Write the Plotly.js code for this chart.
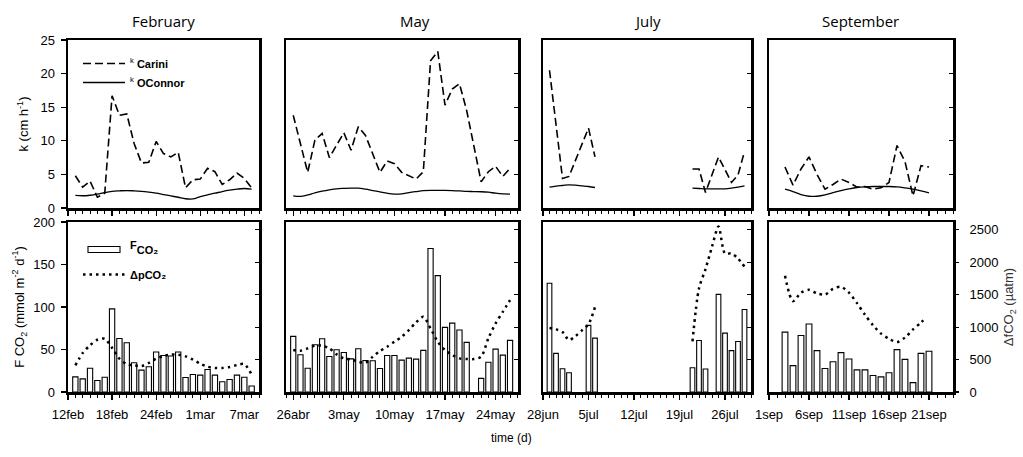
<!DOCTYPE html>
<html><head><meta charset="utf-8">
<script src="https://cdn.plot.ly/plotly-3.0.1.min.js"></script>
<style>html,body{margin:0;padding:0;background:#fff}#chart{width:1023px;height:457px}</style>
</head><body><div id="chart"></div>
<script>
// ---------------- data ----------------
const monthTitles = ["February", "May", "July", "September"];

// tick labels
const febTickVals = [0, 6, 12, 18, 24];
const febTickText = ["12feb", "18feb", "24feb", "1mar", "7mar"];
const mayTickVals = [0, 7, 14, 21, 28];
const mayTickText = ["26abr", "3may", "10may", "17may", "24may"];
const julTickVals = [0, 7, 14, 21, 28];
const julTickText = ["28jun", "5jul", "12jul", "19jul", "26jul"];
const sepTickVals = [0, 5, 10, 15, 20];
const sepTickText = ["1sep", "6sep", "11sep", "16sep", "21sep"];

// February (day 0 = 12 feb)
const febDays = [1,2,3,4,5,6,7,8,9,10,11,12,13,14,15,16,17,18,19,20,21,22,23,24,25];
const febCarini = [4.8,3.1,4.0,1.6,2.2,16.7,13.8,14.0,9.6,6.7,6.8,9.9,8.1,7.6,8.3,3.0,4.2,4.3,5.9,5.4,3.5,4.2,5.2,4.4,3.0];
const febOConnor = [1.87,1.82,1.9,2.07,2.3,2.47,2.55,2.6,2.55,2.47,2.35,2.2,2.0,1.8,1.6,1.38,1.35,1.7,1.97,2.2,2.45,2.65,2.8,2.9,2.8];
const febFlux = [17.8,15.4,28,13.5,17.4,97.8,63,58,34.5,25.7,29.7,47,43,42.4,47,17,20.6,19.8,26.5,19.8,12,14.7,19.8,17.4,7];
const febDpCO2 = [410,600,720,805,820,680,513,430,410,400,447,513,554,575,575,550,498,436,390,370,370,385,416,430,267];

// May (day 0 = 26 abr)
const mayDays = [0,1,2,3,4,5,6,7,8,9,10,11,12,13,14,15,16,17,18,19,20,21,22,23,24,25,26,27,28,29,30];
const mayCarini = [13.8,9.5,5.3,10.1,11.1,7.5,9.4,11.2,8.6,12.1,10.8,8.0,5.3,7.0,6.6,5.3,4.8,4.3,5.4,21.9,23.3,15.3,17.7,18.5,14.5,9.2,3.9,5.4,6.2,4.7,5.9];
const mayOConnor = [1.82,1.73,1.95,2.25,2.5,2.7,2.86,2.92,2.96,2.96,2.8,2.6,2.4,2.2,2.07,2.1,2.3,2.45,2.58,2.62,2.62,2.62,2.6,2.55,2.47,2.45,2.42,2.35,2.2,2.1,2.07];
const mayFlux = [65.5,43.8,28,55.6,62.7,41.8,49.7,46.5,39,50.9,37,36.7,27.6,43,43,37.5,39.8,38.7,49,168.8,136.9,76,81,73,58.4,null,16,35,50.5,43.4,60.7];
const mayDpCO2 = [646,636,672,713,713,672,580,518,503,467,451,544,631,698,775,852,954,1072,1159,980,775,646,569,518,508,508,544,826,1057,1236,1416];

// July (day 0 = 28 jun); null marks the data gap
const julKDays = [1,2,3,4,5,6,7,8,15,23,24,25,26,27,28,29,30,31];
const julCarini = [20.5,12.5,4.4,4.7,7.0,9.5,11.9,7.6,null,5.8,5.8,2.3,5.0,7.6,5.7,3.8,4.9,8.4];
const julOConnor = [3.1,3.25,3.35,3.45,3.4,3.3,3.2,3.05,null,2.95,2.9,2.85,2.85,2.85,2.85,2.95,3.1,3.3];
const julFluxDays = [1,2,3,4,7,8,23,24,25,27,28,29,30,31];
const julFlux = [128,45.5,27.3,22.6,78.4,63.4,28.5,60.6,27,114.9,69.3,48.7,59.4,97];
const julDpDays = [1,2,3,4,5,6,7,8,15,23,24,25,26,27,28,29,30,31];
const julDpCO2 = [985,965,924,800,862,950,1045,1309,null,780,1596,1894,2238,2551,2135,2135,2058,1930];

// September (day 0 = 1 sep)
const sepDays = [2,3,4,5,6,7,8,9,10,11,12,13,14,15,16,17,18,19,20];
const sepCarini = [6.1,3.4,5.8,7.6,5.0,2.8,3.5,4.3,3.8,3.1,3.2,2.8,3.0,3.8,9.3,6.9,1.8,6.3,6.1];
const sepOConnor = [2.8,2.45,2.0,1.75,1.75,1.95,2.3,2.6,2.85,3.05,3.15,3.2,3.2,3.2,3.15,3.0,2.8,2.55,2.25];
const sepFlux = [70.5,31,66.5,80,48.7,27.7,35.6,46.3,38.8,26,26,19.4,17.8,22.6,49.9,38.4,11,45.5,48];
const sepDpDays = [2,3,4,5,6,7,8,9,10,11,12,13,14,15,16,17,18,19,19.6];
const sepDpCO2 = [1790,1400,1530,1575,1520,1500,1590,1620,1530,1370,1190,1030,900,820,770,840,965,1070,1140];

// ---------------- styling / layout ----------------
const FONT = "Liberation Sans, Arial, sans-serif";
const W = 1023, H = 457;
const xPix = [[68,259],[286,518],[543,751],[769,953]];
const xRanges = [[0,26],[-1,31.1],[0,32],[0,23]];
const topPix = [40,208], botPix = [222,392];
const px = (a) => [a[0]/W, a[1]/W];
const py = (a) => [1 - a[1]/H, 1 - a[0]/H];

const tickSets = [
  [febTickVals, febTickText], [mayTickVals, mayTickText],
  [julTickVals, julTickText], [sepTickVals, sepTickText]
];
const kSets = [
  [febDays, febCarini, febDays, febOConnor],
  [mayDays, mayCarini, mayDays, mayOConnor],
  [julKDays, julCarini, julKDays, julOConnor],
  [sepDays, sepCarini, sepDays, sepOConnor]
];
const botSets = [
  [febDays, febFlux, febDays, febDpCO2],
  [mayDays, mayFlux, mayDays, mayDpCO2],
  [julFluxDays, julFlux, julDpDays, julDpCO2],
  [sepDays, sepFlux, sepDpDays, sepDpCO2]
];

const lineStyle = {showline:true, linecolor:'#000', linewidth:2.5, mirror:true, showgrid:false, zeroline:false, fixedrange:true};
const tickFont = {family: FONT, size: 13, color: '#000'};

const data = [];
const layout = {
  width: W, height: H, margin: {l:0, r:0, t:0, b:0},
  paper_bgcolor: '#fff', plot_bgcolor: 'rgba(0,0,0,0)',
  font: {family: FONT, color: '#000'},
  showlegend: true,
  annotations: [],
  legend: {x: 78/W, y: 1 - 49/H, xanchor:'left', yanchor:'top', bgcolor:'rgba(0,0,0,0)', itemwidth: 42,
           font:{family: FONT, size: 11, color:'#000'}, tracegroupgap: 0, itemclick:false, itemdoubleclick:false},
  legend2: {x: 78/W, y: 1 - 235/H, xanchor:'left', yanchor:'top', bgcolor:'rgba(0,0,0,0)', itemwidth: 42,
           font:{family: FONT, size: 11, color:'#000'}, tracegroupgap: 6, itemclick:false, itemdoubleclick:false}
};

for (let i = 0; i < 4; i++) {
  const n = i + 1;           // top panel axis index
  const m = i + 5;           // bottom panel axis index
  const r = i + 9;           // right ΔpCO2 axis index
  const [tv, tt] = tickSets[i];
  const minor = {dtick: 1, tick0: 0, ticks: 'outside', ticklen: 3, tickwidth: 1, tickcolor: '#000'};
  const xBase = Object.assign({}, lineStyle, {
    domain: px(xPix[i]), range: xRanges[i], tickmode: 'array', tickvals: tv, ticktext: tt,
    ticks: 'outside', ticklen: 5, tickwidth: 1.2, tickcolor: '#000', minor: minor, tickfont: tickFont
  });
  layout['xaxis' + n] = Object.assign({}, xBase, {anchor: 'y' + n, showticklabels: false});
  layout['xaxis' + m] = Object.assign({}, xBase, {anchor: 'y' + m, showticklabels: true, ticklabelstandoff: 4});

  // top y axes (k)
  if (i === 0) {
    layout['yaxis' + n] = Object.assign({}, lineStyle, {
      domain: py(topPix), range: [0, 25], anchor: 'x' + n, side: 'left', dtick: 5, tick0: 0,
      ticks: 'outside', ticklen: 5, tickwidth: 1.2, tickcolor: '#000', tickfont: tickFont, ticklabelstandoff: 3,
      title: {text: 'k (cm h<sup>-1</sup>)', font: {family: FONT, size: 13, color: '#000'}, standoff: 9}
    });
  } else {
    layout['yaxis' + n] = Object.assign({}, lineStyle, {
      domain: py(topPix), range: [0, 25], anchor: 'x' + n, side: 'right', dtick: 5, tick0: 0,
      ticks: 'inside', ticklen: 4, tickwidth: 1, tickcolor: '#000', showticklabels: false
    });
  }
  // bottom left y axes (flux)
  if (i === 0) {
    layout['yaxis' + m] = Object.assign({}, lineStyle, {
      domain: py(botPix), range: [0, 200], anchor: 'x' + m, side: 'left', dtick: 50, tick0: 0,
      ticks: 'outside', ticklen: 5, tickwidth: 1.2, tickcolor: '#000', tickfont: tickFont, ticklabelstandoff: 3,
      title: {text: 'F CO<sub>2</sub> (mmol m<sup>-2</sup> d<sup>-1</sup>)', font: {family: FONT, size: 13, color: '#000'}, standoff: 6}
    });
  } else {
    layout['yaxis' + m] = Object.assign({}, lineStyle, {
      domain: py(botPix), range: [0, 200], anchor: 'x' + m, side: 'left', ticks: '', showticklabels: false
    });
  }
  // right y axes (ΔpCO2)
  if (i === 3) {
    layout['yaxis' + r] = {
      overlaying: 'y' + m, anchor: 'x' + m, side: 'right', range: [0, 2620], dtick: 500, tick0: 0,
      showline: false, showgrid: false, zeroline: false, fixedrange: true,
      ticks: 'outside', ticklen: 5, tickwidth: 1.2, tickcolor: '#000', tickfont: tickFont, ticklabelstandoff: 8,
      title: {text: 'ΔfCO<sub>2</sub> (µatm)', font: {family: FONT, size: 13, color: '#333'}, standoff: 6}
    };
  } else {
    layout['yaxis' + r] = {
      overlaying: 'y' + m, anchor: 'x' + m, side: 'right', range: [0, 2620], dtick: 500, tick0: 0,
      showline: false, showgrid: false, zeroline: false, fixedrange: true,
      ticks: 'inside', ticklen: 4, tickwidth: 1, tickcolor: '#000', showticklabels: false
    };
  }

  const [kcx, kcy, kox, koy] = kSets[i];
  data.push({
    type: 'scatter', mode: 'lines', x: kcx, y: kcy, xaxis: 'x' + n, yaxis: 'y' + n,
    name: '<sup>k</sup> <b>Carini</b>', legend: 'legend', showlegend: i === 0, legendgroup: 'kc',
    line: {color: '#000', width: 1.6, dash: '8px,4px'}, hoverinfo: 'skip'
  });
  data.push({
    type: 'scatter', mode: 'lines', x: kox, y: koy, xaxis: 'x' + n, yaxis: 'y' + n,
    name: '<sup>k</sup> <b>OConnor</b>', legend: 'legend', showlegend: i === 0, legendgroup: 'ko',
    line: {color: '#000', width: 1.3, shape: 'spline', smoothing: 1}, hoverinfo: 'skip'
  });

  const [fx, fy, dx, dy] = botSets[i];
  data.push({
    type: 'bar', x: fx, y: fy, xaxis: 'x' + m, yaxis: 'y' + m, width: 0.72,
    name: "<sup><span style='font-size:11px'><b>F</b></span></sup><b>CO₂</b>", legend: 'legend2', showlegend: i === 0, legendgroup: 'f',
    marker: {color: '#fff', line: {color: '#000', width: 1.1}}, hoverinfo: 'skip'
  });
  data.push({
    type: 'scatter', mode: 'lines', x: dx, y: dy, xaxis: 'x' + m, yaxis: 'y' + r,
    name: '<b>ΔpCO₂</b>', legend: 'legend2', showlegend: i === 0, legendgroup: 'd',
    line: {color: '#000', width: 2.5, dash: '2.5px,4px', shape: 'spline', smoothing: 0.8}, hoverinfo: 'skip'
  });

  // month title
  const titleX = [163, 415, 647, 860][i];
  layout.annotations.push({
    text: monthTitles[i], xref: 'paper', yref: 'paper', x: titleX / W, y: 1 - 21 / H,
    xanchor: 'center', yanchor: 'middle', showarrow: false,
    font: {family: 'Open Sans, Noto Sans, sans-serif', size: 15, color: '#000'}
  });
}

layout.annotations.push({
  text: 'time (d)', xref: 'paper', yref: 'paper', x: 511 / W, y: 1 - 438 / H,
  xanchor: 'center', yanchor: 'middle', showarrow: false,
  font: {family: FONT, size: 12, color: '#000'}
});

Plotly.newPlot('chart', data, layout, {staticPlot: true, displayModeBar: false}).then(function (gd) {
  // widen the bar key in the legend to a flat rectangle like the original
  gd.querySelectorAll('g.legendpoints path').forEach(function (p) {
    const d = p.getAttribute('d') || '';
    if (d.replace(/\s/g, '') === 'M6,6H-6V-6H6Z') p.setAttribute('d', 'M16,3H-16V-3H16Z');
  });
  // drop empty placeholder text nodes
  gd.querySelectorAll('text').forEach(function (t) {
    if (!t.textContent || !t.textContent.trim()) t.remove();
  });
});
</script>
</body></html>
